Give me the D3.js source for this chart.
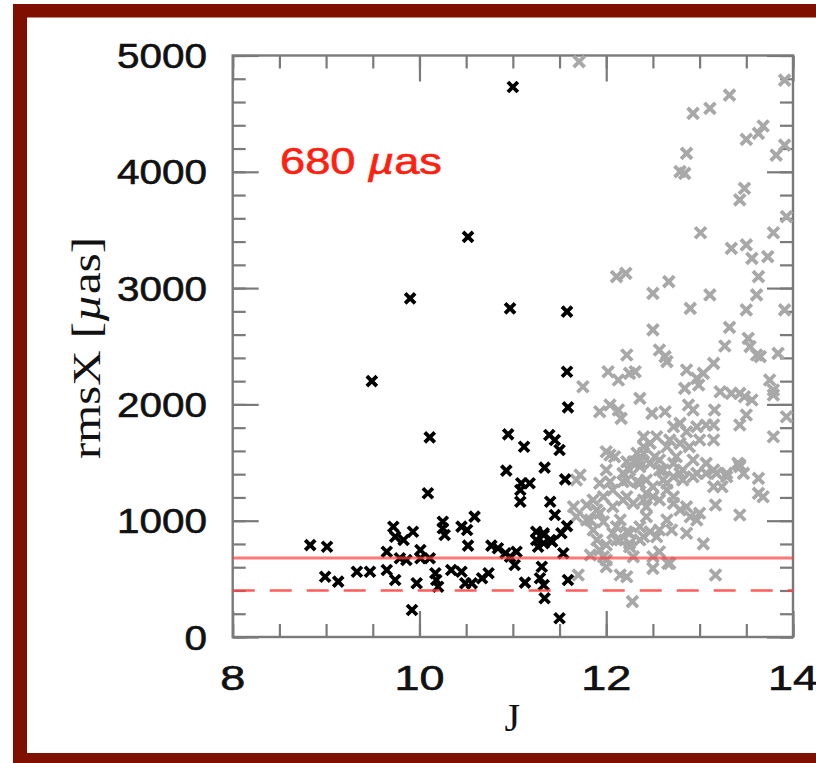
<!DOCTYPE html>
<html>
<head>
<meta charset="utf-8">
<script src="https://cdn.jsdelivr.net/npm/d3@7"></script>
<style>
  html, body { margin: 0; padding: 0; background: #fff; }
  svg { display: block; }
</style>
</head>
<body>
<svg id="chart" width="816" height="763"></svg>
<script>
// ---------------- DATA ----------------
const blackJ = [8.83, 9.01, 8.99, 9.13, 9.33, 9.47, 9.49, 9.65, 9.65, 9.72, 9.74, 9.74, 9.79, 9.83, 9.86, 9.90, 9.93, 9.92, 9.97, 10.01,
  10.01, 10.11, 10.09, 10.11, 10.17, 10.18, 10.20, 10.25, 10.25, 10.27, 10.34, 10.45, 10.45, 10.51, 10.49, 10.56, 10.52, 10.52, 10.59, 10.67,
  10.74, 10.77, 10.84, 10.92, 10.97, 11.04, 11.02, 10.93, 10.95, 10.97, 11.00, 11.09, 11.18, 11.08, 11.08, 11.12, 11.13, 11.25, 11.33, 11.25,
  11.33, 11.27, 11.31, 11.29, 11.33, 11.34, 11.34, 11.39, 11.45, 11.50, 11.40, 11.45, 11.42, 11.52, 11.54, 11.56, 11.58, 11.59, 11.50, 11.58,
  11.58, 11.59, 11.33, 11.40];
const blackRms = [790, 776, 518, 476, 561, 561, 2200, 733, 576, 948, 862, 490, 677, 834, 662, 2912, 905, 232, 462, 748,
  677, 677, 1236, 1717, 548, 490, 432, 991, 935, 877, 576, 561, 949, 920, 462, 462, 785, 3440, 1035, 505,
  548, 785, 763, 720, 690, 733, 619, 1430, 1743, 2826, 4729, 1322, 1322, 1264, 1163, 1636, 467, 905, 892, 834,
  806, 776, 604, 505, 447, 333, 1456, 1737, 1694, 1608, 1163, 1049, 820, 892, 720, 1356, 954, 490, 161, 2797,
  2281, 1975, 877, 834];

const grayJ = [11.71, 12.93, 13.11, 13.32, 13.50, 13.63, 13.68, 13.91, 13.82, 13.91, 12.86, 12.79, 12.84, 13.48, 13.43, 13.93, 13.01, 13.34, 13.50, 13.56,
  13.73, 13.79, 13.63, 13.61, 13.50, 13.91, 13.32, 13.27, 13.52, 13.54, 13.61, 13.65, 13.84, 12.11, 12.21, 12.67, 12.50, 13.11, 12.90, 12.50,
  12.22, 12.57, 12.63, 12.65, 12.02, 12.13, 12.25, 12.31, 11.75, 12.86, 12.97, 13.04, 12.99, 12.84, 13.15, 13.22, 13.34, 13.43, 13.48, 13.56,
  13.75, 13.79, 13.79, 12.36, 12.04, 12.13, 12.16, 11.93, 12.49, 12.63, 12.88, 12.93, 13.16, 13.50, 13.43, 13.93, 13.79, 12.72, 12.79, 12.86,
  12.97, 13.07, 13.15, 12.68, 12.79, 12.89, 13.00, 13.15, 12.47, 12.40, 12.52, 12.36, 12.47, 12.00, 12.09, 12.29, 12.25, 12.61, 12.72, 12.82,
  12.93, 13.07, 13.29, 13.43, 11.72, 11.68, 12.04, 12.18, 12.33, 12.43, 12.61, 12.72, 12.82, 12.97, 13.15, 13.29, 13.43, 13.47, 13.15, 13.24,
  13.63, 13.63, 13.68, 13.17, 13.43, 12.70, 13.04, 13.17, 11.65, 11.79, 11.90, 11.68, 11.83, 11.97, 12.07, 12.18, 12.29, 12.40, 12.50, 12.65,
  12.72, 12.79, 12.90, 12.97, 12.11, 12.22, 12.36, 12.47, 12.57, 11.90, 12.00, 12.15, 12.25, 12.36, 11.83, 11.97, 12.29, 12.50, 12.57, 12.00,
  12.15, 12.22, 12.50, 12.66, 11.70, 12.28, 11.93, 12.43, 11.86, 12.07, 12.25, 12.86, 11.93, 12.00, 12.25, 12.68, 12.04, 12.22, 12.33, 12.40,
  12.57, 11.93, 12.22, 12.36, 12.50, 12.65, 12.93, 13.07, 13.18, 13.41,
  12.40, 12.54, 12.65, 12.75, 12.07, 12.22, 12.43, 12.57, 12.72, 12.86, 13.00, 11.79, 12.15, 12.43, 12.65, 11.97, 11.86, 12.40, 12.11, 12.54,
  12.79, 12.57, 12.36, 12.18, 12.00];
const grayRms = [4947, 4503, 4546, 4660, 4279, 4331, 4394, 4789, 4144, 4230, 4159, 4001, 3987, 3858, 3758, 3614, 3476, 3342, 3371, 3256,
  3270, 3476, 3098, 2941, 2812, 2812, 2663, 2502, 2568, 2496, 2425, 2410, 2439, 3098, 3127, 3055, 2955, 2941, 2826, 2640,
  2425, 2468, 2410, 2367, 2281, 2210, 2267, 2281, 2152, 2296, 2224, 2267, 2167, 2138, 2353, 2109, 2095, 2095, 2066, 2038,
  2210, 2124, 2081, 2052, 1995, 1952, 1880, 1937, 1923, 1937, 1995, 1952, 1952, 1909, 1823, 1894, 1722, 1808, 1837, 1765,
  1808, 1823, 1823, 1694, 1665, 1636, 1694, 1694, 1665, 1580, 1550, 1507, 1493, 1593, 1550, 1507, 1436, 1436, 1493, 1436,
  1522, 1493, 1407, 1479, 1393, 1350, 1335, 1335, 1335, 1350, 1350, 1378, 1350, 1407, 1436, 1378, 1464, 1407, 1292, 1292,
  1364, 1235, 1206, 1135, 1049, 920, 800, 533, 1120, 1135, 1092, 1034, 1006, 991, 1120, 1178, 1149, 1178, 1206, 1264,
  1149, 1092, 1034, 1006, 948, 905, 948, 905, 920, 834, 791, 834, 806, 834, 705, 690, 690, 690, 733, 604,
  533, 518, 590, 633, 533, 304, 1064, 1120, 920, 892, 892, 892, 748, 662, 776, 633, 1565, 1507, 1580, 1636,
  1522, 1322, 1350, 1322, 1292, 1322, 1378, 1407, 1407, 1493,
  1720, 1722, 1636, 1550, 1264, 1206, 1235, 1178, 1206, 1120, 1064, 1006, 1006, 1034, 1006, 1206, 1178, 862, 834, 862,
  1407, 1436, 1464, 1407, 1436];

const xTickLabels = ["8", "10", "12", "14"];
const xMajorValues = [8, 10, 12, 14];
const yTickLabels = ["0", "1000", "2000", "3000", "4000", "5000"];
const yMajorValues = [0, 1000, 2000, 3000, 4000, 5000];
const solidLevel = 680;   // µas
const dashedLevel = 400;  // µas
const xTitle = "J";
const annotation = "680";

// ---------------- LAYOUT ----------------
const svg = d3.select("#chart");
const L = 232.7, R = 793, T = 55.5, B = 637;
const x = d3.scaleLinear().domain([8, 14]).range([L, R]);
const y = d3.scaleLinear().domain([0, 5000]).range([B, T]);

// frame border
svg.append("rect").attr("x", 13).attr("y", 4).attr("width", 830).attr("height", 800).attr("fill", "#7f1000");
svg.append("rect").attr("x", 27).attr("y", 17.5).attr("width", 820).attr("height", 735.5).attr("fill", "#ffffff");

const axisColor = "#7a7a7a";
const xMinor = d3.range(8, 14.001, 0.5);
const yMinor = d3.range(0, 5000.1, 200);

function styleAxis(g) {
  g.select(".domain").remove();
  g.selectAll(".tick line").attr("stroke", axisColor).attr("stroke-width", 2.2);
  g.selectAll(".tick text").remove();
}
svg.append("g").attr("transform", `translate(0,${B})`).call(d3.axisBottom(x).tickValues(xMinor).tickSize(-13)).call(styleAxis);
svg.append("g").attr("transform", `translate(0,${B})`).call(d3.axisBottom(x).tickValues(xMajorValues).tickSize(-26)).call(styleAxis);
svg.append("g").attr("transform", `translate(0,${T})`).call(d3.axisTop(x).tickValues(xMinor).tickSize(-13)).call(styleAxis);
svg.append("g").attr("transform", `translate(0,${T})`).call(d3.axisTop(x).tickValues(xMajorValues).tickSize(-26)).call(styleAxis);
svg.append("g").attr("transform", `translate(${L},0)`).call(d3.axisLeft(y).tickValues(yMinor).tickSize(-13)).call(styleAxis);
svg.append("g").attr("transform", `translate(${L},0)`).call(d3.axisLeft(y).tickValues(yMajorValues).tickSize(-26)).call(styleAxis);
svg.append("g").attr("transform", `translate(${R},0)`).call(d3.axisRight(y).tickValues(yMinor).tickSize(-13)).call(styleAxis);
svg.append("g").attr("transform", `translate(${R},0)`).call(d3.axisRight(y).tickValues(yMajorValues).tickSize(-26)).call(styleAxis);

svg.append("rect").attr("x", L).attr("y", T).attr("width", R - L).attr("height", B - T)
  .attr("fill", "none").attr("stroke", axisColor).attr("stroke-width", 2.4);

// tick labels
const labelFont = "'Liberation Sans', Arial, sans-serif";
svg.append("g").selectAll("text").data(yMajorValues).join("text")
  .attr("x", 207).attr("y", d => y(d) + 12.5)
  .attr("text-anchor", "end")
  .attr("font-family", labelFont).attr("font-size", 35)
  .attr("textLength", (d, i) => yTickLabels[i].length * 22.5).attr("lengthAdjust", "spacingAndGlyphs")
  .attr("fill", "#111").attr("stroke", "#111").attr("stroke-width", 0.6)
  .text((d, i) => yTickLabels[i]);
svg.append("g").selectAll("text").data(xMajorValues).join("text")
  .attr("x", d => x(d)).attr("y", 690)
  .attr("text-anchor", "middle")
  .attr("font-family", labelFont).attr("font-size", 35)
  .attr("textLength", (d, i) => xTickLabels[i].length * 25).attr("lengthAdjust", "spacingAndGlyphs")
  .attr("fill", "#111").attr("stroke", "#111").attr("stroke-width", 0.6)
  .text((d, i) => xTickLabels[i]);

// axis titles
svg.append("text").attr("x", (L + R) / 2 - 0.5).attr("y", 731)
  .attr("text-anchor", "middle").attr("font-family", "'Liberation Serif', serif").attr("font-size", 40)
  .attr("fill", "#111").text(xTitle);
const yt = svg.append("text").attr("transform", "translate(100,348) rotate(-90)")
  .attr("text-anchor", "middle").attr("font-family", "'Liberation Serif', serif").attr("font-size", 40)
  .attr("textLength", 222).attr("lengthAdjust", "spacingAndGlyphs")
  .attr("fill", "#111");
yt.append("tspan").text("rmsX [");
yt.append("tspan").attr("font-style", "italic").text("µ");
yt.append("tspan").text("as]");

// markers
svg.append("g").selectAll("path").data(grayJ.map((j, i) => [j, grayRms[i]])).join("path")
  .attr("transform", d => `translate(${x(d[0])},${y(d[1])})`)
  .attr("d", "M-5.5,-5.5L5.5,5.5M-5.5,5.5L5.5,-5.5").attr("stroke", "#a8a8a8").attr("stroke-width", 3.8).attr("fill", "none");
svg.append("g").selectAll("path").data(blackJ.map((j, i) => [j, blackRms[i]])).join("path")
  .attr("transform", d => `translate(${x(d[0])},${y(d[1])})`)
  .attr("d", "M-5,-5L5,5M-5,5L5,-5").attr("stroke", "#000").attr("stroke-width", 3.8).attr("fill", "none");

// threshold lines
svg.append("line").attr("x1", L).attr("x2", R).attr("y1", y(solidLevel)).attr("y2", y(solidLevel))
  .attr("stroke", "#ff4040").attr("stroke-opacity", 0.7).attr("stroke-width", 3);
svg.append("line").attr("x1", L).attr("x2", R).attr("y1", y(dashedLevel)).attr("y2", y(dashedLevel))
  .attr("stroke", "#ff4040").attr("stroke-opacity", 0.85).attr("stroke-width", 2.6).attr("stroke-dasharray", "22,15");

// annotation
const ann = svg.append("text").attr("x", 280).attr("y", 173.5)
  .attr("font-family", labelFont).attr("font-size", 36).attr("fill", "#ff2010")
  .attr("stroke", "#ff2010").attr("stroke-width", 0.6)
  .attr("textLength", 162).attr("lengthAdjust", "spacingAndGlyphs");
ann.append("tspan").text(annotation + " ");
ann.append("tspan").attr("font-style", "italic").text("µ");
ann.append("tspan").text("as");
</script>
</body>
</html>
